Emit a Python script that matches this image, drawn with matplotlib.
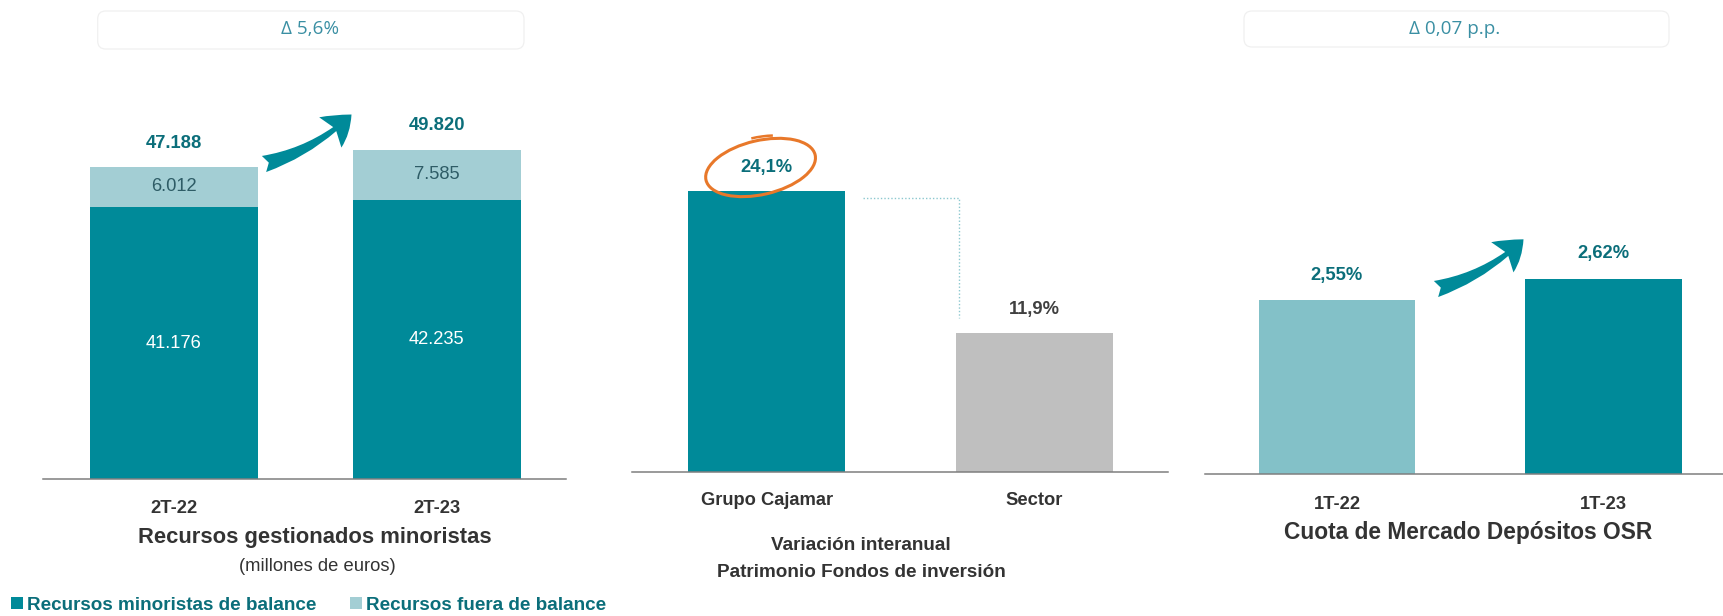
import matplotlib
matplotlib.use("Agg")
import matplotlib.pyplot as plt
from matplotlib import font_manager as fm
from matplotlib.patches import FancyBboxPatch, FancyArrowPatch, Ellipse, Arc, ArrowStyle
from matplotlib.transforms import Affine2D, ScaledTranslation, IdentityTransform

# ---------------- data ----------------
p1_categories = ["2T-22", "2T-23"]
p1_balance = [41176, 42235]          # Recursos minoristas de balance
p1_fuera = [6012, 7585]              # Recursos fuera de balance
p1_title = "Recursos gestionados minoristas"
p1_subtitle = "(millones de euros)"
p1_delta = "\u0394 5,6%"
p1_legend = ["Recursos minoristas de balance", "Recursos fuera de balance"]

p2_categories = ["Grupo Cajamar", "Sector"]
p2_values = [24.1, 11.9]
p2_title = ["Variación interanual", "Patrimonio Fondos de inversión"]

p3_categories = ["1T-22", "1T-23"]
p3_values = [2.55, 2.62]
p3_title = "Cuota de Mercado Depósitos OSR"
p3_delta = "\u0394 0,07 p.p."

# ---------------- style ----------------
avail = {f.name for f in fm.fontManager.ttflist}
NARROW = "Liberation Sans Narrow" if "Liberation Sans Narrow" in avail else "Liberation Sans"
BOXFONT = "Open Sans" if "Open Sans" in avail else "DejaVu Sans"
plt.rcParams["font.family"] = [NARROW, "DejaVu Sans"]

TEAL = "#008A99"
TEAL_LIGHT = "#A3CED4"
TEAL_LIGHT3 = "#83C1C8"
GREY = "#BFBFBF"
LABEL_TEAL = "#0B6E7A"
DARK = "#333333"
AXIS = "#7F7F7F"
ORANGE = "#E8782A"

# font sizes (regular Liberation Sans is wider than the narrow original)
FS_VAL = 13.2
FS_TICK = 13.2
FS_TITLE = 15.8
FS_SUB = 13.2
FS_P2 = 13.6
FS_LEG = 13.6

W, H = 1723, 616
fig = plt.figure(figsize=(W / 100, H / 100), dpi=100)


def fx(x):
    return x / W


def fy(y):
    return 1 - y / H


def rect(x0, x1, ytop, ybot):
    return [fx(x0), fy(ybot), (x1 - x0) / W, (ybot - ytop) / H]


def style_axis(ax):
    for s in ["top", "left", "right"]:
        ax.spines[s].set_visible(False)
    ax.spines["bottom"].set_color(AXIS)
    ax.spines["bottom"].set_linewidth(1.1)
    ax.set_yticks([])
    ax.tick_params(axis="x", length=0)
    ax.patch.set_alpha(0)


def tick_labels(ax, cats, off_pt, size=FS_TICK):
    ax.set_xticks([])
    for i, c in enumerate(cats):
        ax.annotate(c, xy=(i, 0), xycoords=("data", "axes fraction"),
                    xytext=(0, -off_pt), textcoords="offset points",
                    ha="center", va="center", fontsize=size,
                    fontweight="bold", color=DARK, annotation_clip=False)


def fmt_thousands(v):
    return f"{v:,}".replace(",", ".")


def fmt_pct(v, d=1):
    return f"{v:.{d}f}".replace(".", ",") + "%"


def delta_box(x0, x1, y0, y1, text, xt, yt):
    box = FancyBboxPatch((x0, H - y1), x1 - x0, y1 - y0,
                         boxstyle="round,pad=0,rounding_size=8",
                         transform=IdentityTransform(),
                         facecolor="white", edgecolor="#F0F0F0", linewidth=0.9)
    fig.add_artist(box)
    fig.text(fx(xt), fy(yt), text, ha="center", va="center",
             fontsize=13.6, color="#3A8FA3", family=[BOXFONT, "DejaVu Sans"])


def swoosh(tail, tip):
    arr = FancyArrowPatch((fx(tail[0]), fy(tail[1])), (fx(tip[0]), fy(tip[1])),
                          transform=fig.transFigure,
                          arrowstyle=ArrowStyle.Fancy(head_length=1.0, head_width=1.35,
                                                      tail_width=0.6),
                          connectionstyle="arc3,rad=0.13", mutation_scale=20,
                          shrinkA=0, shrinkB=0, color=TEAL, linewidth=0)
    fig.add_artist(arr)


# ---------------- panel 1 ----------------
ax1 = fig.add_axes(rect(42.7, 566, 100, 479.4))
style_axis(ax1)
x1 = range(len(p1_categories))
b1 = ax1.bar(x1, p1_balance, width=0.64, color=TEAL, label=p1_legend[0])
b2 = ax1.bar(x1, p1_fuera, width=0.64, bottom=p1_balance, color=TEAL_LIGHT,
             label=p1_legend[1])
ax1.set_xlim(-0.5, 1.493)
ax1.set_ylim(0, 57311)
for i in x1:
    ax1.text(i, p1_balance[i] / 2, fmt_thousands(p1_balance[i]), ha="center",
             va="center", fontsize=FS_VAL, color="white")
    ax1.text(i, p1_balance[i] + p1_fuera[i] / 2, fmt_thousands(p1_fuera[i]),
             ha="center", va="center", fontsize=FS_VAL, color="#2E5C66")
    total = p1_balance[i] + p1_fuera[i]
    ax1.annotate(fmt_thousands(total), xy=(i, total), xytext=(0, 17.0),
                 textcoords="offset points", ha="center", va="center",
                 fontsize=FS_VAL, fontweight="bold", color=LABEL_TEAL)
tick_labels(ax1, p1_categories, 21.2)
fig.text(fx(314.4), fy(537), p1_title, ha="center", va="center",
         fontsize=FS_TITLE, fontweight="bold", color=DARK)
fig.text(fx(317.5), fy(566.5), p1_subtitle, ha="center", va="center",
         fontsize=FS_SUB, color=DARK)
fig.legend(handles=[b1, b2], labels=p1_legend, loc="center left",
           bbox_to_anchor=(fx(11), fy(605)), ncol=2, frameon=False,
           handlelength=0.62, handleheight=0.62, handletextpad=0.25,
           columnspacing=1.75, borderaxespad=0, borderpad=0,
           prop={"family": [NARROW, "DejaVu Sans"], "weight": "bold", "size": FS_LEG},
           labelcolor=LABEL_TEAL)
delta_box(97.7, 524, 11, 49, p1_delta, 309.6, 29.5)
swoosh((264, 164), (351.5, 114.5))

# ---------------- panel 2 ----------------
ax2 = fig.add_axes(rect(632, 1167.6, 100, 472))
style_axis(ax2)
x2 = range(len(p2_categories))
ax2.bar(x2, p2_values, width=0.586, color=[TEAL, GREY])
ax2.set_xlim(-0.502, 1.496)
ax2.set_ylim(0, 31.96)
label_colors2 = [LABEL_TEAL, "#404040"]
for i in x2:
    ax2.annotate(fmt_pct(p2_values[i]), xy=(i, p2_values[i]), xytext=(0, 17.3),
                 textcoords="offset points", ha="center", va="center",
                 fontsize=FS_VAL, fontweight="bold", color=label_colors2[i])
# dotted connector
xr = 0 + 0.293 + 0.067
xl = 1 - 0.293 + 0.011
ax2.plot([xr, xl, xl], [p2_values[0] - 0.6, p2_values[0] - 0.6, p2_values[1] + 1.3],
         linestyle=(0, (1, 1.5)), color="#8CC8CF", linewidth=1.0, clip_on=False)
# orange hand-drawn ellipse around first label
etr = Affine2D() + ScaledTranslation(0, p2_values[0], ax2.transData)
ax2.add_patch(Ellipse((-6, 24), 112, 54, angle=13, fill=False, edgecolor=ORANGE,
                      linewidth=2.2, transform=etr, clip_on=False))
ax2.add_patch(Arc((-3, 29), 108, 52, angle=9, theta1=62, theta2=108,
                  edgecolor=ORANGE, linewidth=1.8, transform=etr, clip_on=False))
tick_labels(ax2, p2_categories, 20.3)
fig.text(fx(861), fy(546), p2_title[0], ha="center", va="center",
         fontsize=FS_P2, fontweight="bold", color=DARK)
fig.text(fx(861), fy(572.5), p2_title[1], ha="center", va="center",
         fontsize=FS_P2, fontweight="bold", color=DARK)

# ---------------- panel 3 ----------------
ax3 = fig.add_axes(rect(1205, 1723, 100, 474))
style_axis(ax3)
x3 = range(len(p3_categories))
ax3.bar(x3, p3_values, width=0.587, color=[TEAL_LIGHT3, TEAL])
ax3.set_xlim(-0.495, 1.448)
ax3.set_ylim(1.99, 3.196)
for i in x3:
    ax3.annotate(fmt_pct(p3_values[i], 2), xy=(i, p3_values[i]), xytext=(0, 18),
                 textcoords="offset points", ha="center", va="center",
                 fontsize=FS_VAL, fontweight="bold", color=LABEL_TEAL)
tick_labels(ax3, p3_categories, 22.3)
fig.text(fx(1468.4), fy(532), p3_title, ha="center", va="center",
         fontsize=FS_TITLE + 0.6, fontweight="bold", color=DARK)
delta_box(1244, 1669, 11, 47, p3_delta, 1455, 28.6)
swoosh((1436, 289), (1523.5, 239.3))

fig.savefig("out.png", dpi=100)
